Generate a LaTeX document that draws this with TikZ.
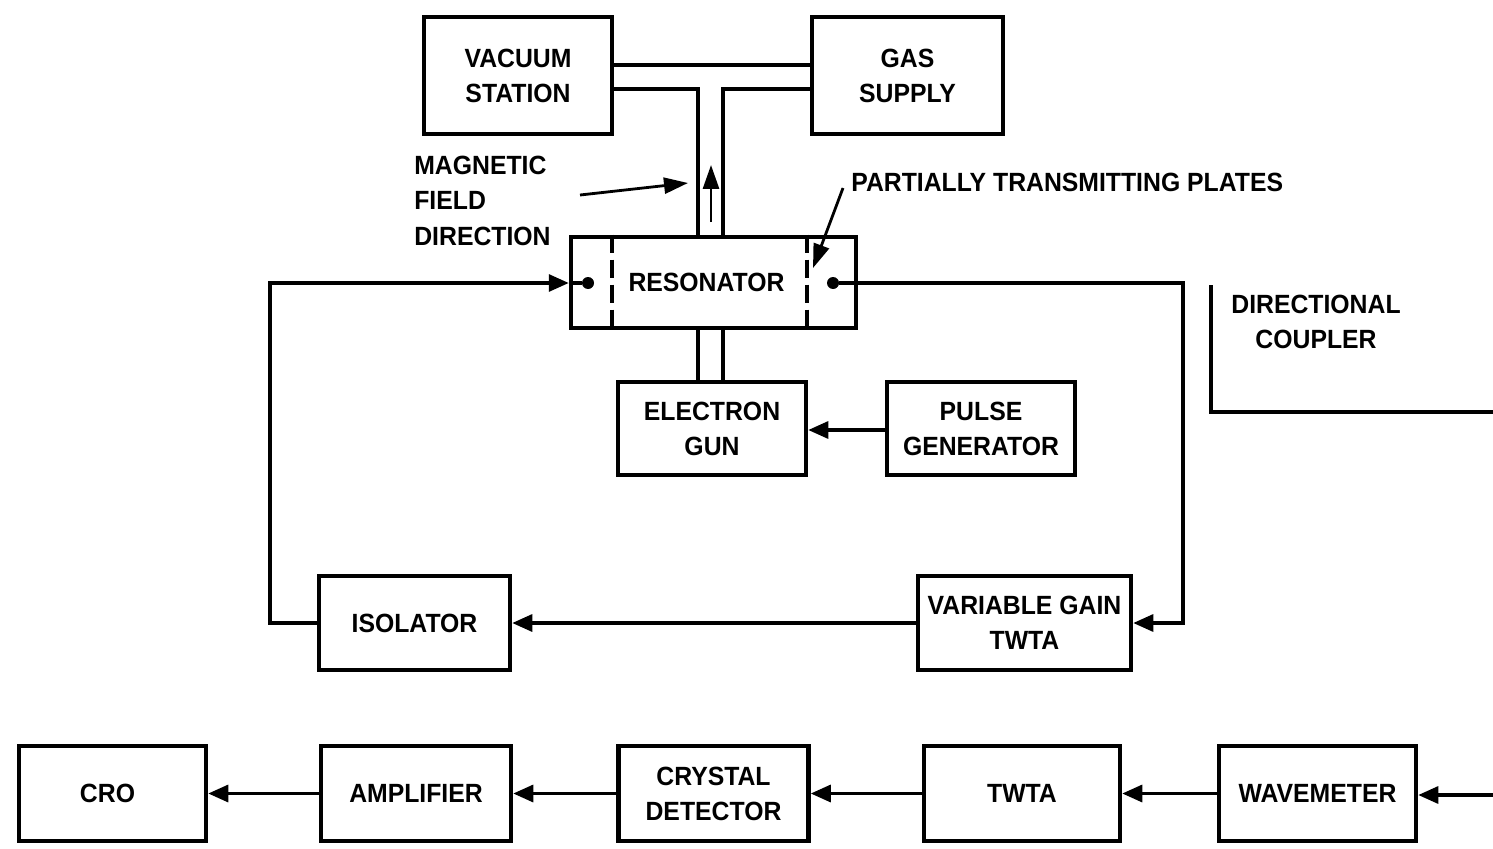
\documentclass[tikz,border=0pt]{standalone}
\usepackage{fontspec}
\setmainfont[FakeStretch=0.94]{Liberation Sans}
\usetikzlibrary{arrows.meta, positioning}

\begin{document}
\begin{tikzpicture}[
    x=0.02cm, y=-0.02cm, % pixel-like units, y pointing down
    >={Triangle[length=0.4cm, width=0.34cm]}, % Default arrow tip
    blk/.style={draw, line width=2.6pt, inner sep=0pt, align=center,
        font=\bfseries\fontsize{15}{20}\selectfont}, % Style for boxes
    lbl/.style={inner sep=0pt, font=\bfseries\fontsize{15}{20}\selectfont}, % Free labels
    conn/.style={line width=1.8pt}, % Connectors and pipes
    thin/.style={line width=1.6pt, -{Triangle[length=0.48cm, width=0.32cm]}}, % Pointer arrows
    plate/.style={line width=2pt, dash pattern=on 0.36cm off 0.14cm}, % Plates
    dot/.style={fill, circle, inner sep=0pt, minimum size=0.24cm} % Coupling ports
]

    \useasboundingbox (0,0) rectangle (1493,848);

    % Top boxes
    \node[blk, minimum width=3.76cm, minimum height=2.34cm] (vac) at (518,75.5) {VACUUM\\STATION};
    \node[blk, minimum width=3.82cm, minimum height=2.34cm] (gas) at (907.5,75.5) {GAS\\SUPPLY};

    % Resonator with plates and ports
    \node[blk, minimum width=5.7cm, minimum height=1.82cm] (res) at (713.5,282.5) {\hspace*{-0.28cm}RESONATOR};
    \coordinate (plL) at (612,0);
    \coordinate (plR) at (807,0);
    \draw[plate] (res.north -| plL) -- (res.south -| plL);
    \draw[plate] (res.north -| plR) -- (res.south -| plR);
    \node[dot] (dL) at (588,283) {};
    \node[dot] (dR) at (833,283) {};

    % Electron gun and pulse generator
    \node[blk, minimum width=3.76cm, minimum height=1.86cm] (gun) at (712,428.5) {ELECTRON\\GUN};
    \node[blk, minimum width=3.76cm, minimum height=1.86cm] (pulse) at (981,428.5) {PULSE\\GENERATOR};
    \draw[conn, ->] (pulse.west |- 0,430) -- (gun.east |- 0,430);

    % Feedback loop
    \node[blk, minimum width=3.82cm, minimum height=1.88cm] (iso) at (414.5,623) {ISOLATOR};
    \node[blk, minimum width=4.26cm, minimum height=1.88cm] (vgt) at (1024.5,623) {VARIABLE GAIN\\TWTA};

    % Pipes
    \coordinate (pL) at (698,89);
    \coordinate (pR) at (723,89);
    \draw[conn] (vac.east |- 0,65) -- (gas.west |- 0,65);
    \draw[conn] (vac.east |- pL) -- (pL) -- (pL |- res.north);
    \draw[conn] (gas.west |- pR) -- (pR) -- (pR |- res.north);
    \draw[conn] (pL |- res.south) -- (pL |- gun.north);
    \draw[conn] (pR |- res.south) -- (pR |- gun.north);

    % Magnetic field direction
    \node[lbl, align=left, anchor=north west] (mag) at (414,156) {MAGNETIC\\FIELD\\DIRECTION};
    \coordinate (magA) at (580,195);
    \coordinate (magB) at (688,183);
    \draw[thin] (magA) -- (magB);
    \coordinate (bA) at (711,222);
    \coordinate (bB) at (711,165);
    \draw[thin] (bA) -- (bB);

    % Partially transmitting plates
    \node[lbl, anchor=west] (ptp) at (851,182) {PARTIALLY TRANSMITTING PLATES};
    \coordinate (ptA) at (843,188);
    \coordinate (ptB) at (813,268);
    \draw[thin] (ptA) -- (ptB);

    \coordinate (loopL) at (270,283);
    \coordinate (loopR) at (1183,283);
    \draw[conn, ->] (iso.west) -| (loopL) -- (res.west |- dL);
    \draw[conn] (res.west |- dL) -- (dL);
    \draw[conn, ->] (dR) -- (loopR) |- (vgt.east);
    \draw[conn, ->] (vgt.west) -- (iso.east);

    % Directional coupler
    \node[lbl, align=center] (dc) at (1316,322) {DIRECTIONAL\\COUPLER};
    \coordinate (dcTop) at (1211,285);
    \coordinate (dcEnd) at (1493,412);
    \draw[conn] (dcTop) |- (dcEnd);

    % Detection chain
    \node[blk, minimum width=3.74cm, minimum height=1.9cm] (cro) at (112.5,793.5) {\hspace*{-0.2cm}CRO};
    \node[blk, minimum width=3.8cm, minimum height=1.9cm] (amp) at (416,793.5) {AMPLIFIER};
    \node[blk, minimum width=3.8cm, minimum height=1.9cm] (cry) at (713.5,793.5) {CRYSTAL\\DETECTOR};
    \node[blk, minimum width=3.92cm, minimum height=1.9cm] (twta) at (1022,793.5) {TWTA};
    \node[blk, minimum width=3.94cm, minimum height=1.9cm] (wave) at (1317.5,793.5) {WAVEMETER};
    \coordinate (inR) at (1493,795);
    \draw[conn, ->] (inR) -- (wave.east |- inR);
    \draw[conn, ->] (wave.west) -- (twta.east);
    \draw[conn, ->] (twta.west) -- (cry.east);
    \draw[conn, ->] (cry.west) -- (amp.east);
    \draw[conn, ->] (amp.west) -- (cro.east);

\end{tikzpicture}
\end{document}
